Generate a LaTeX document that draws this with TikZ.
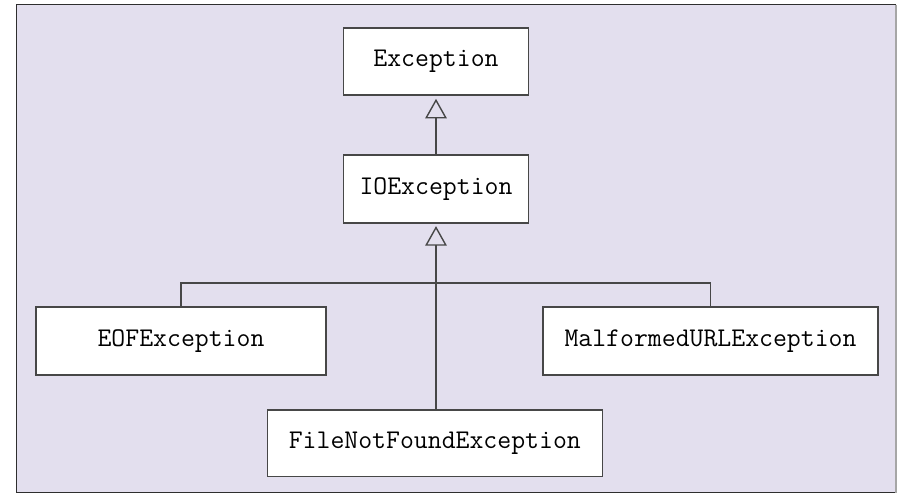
\documentclass[tikz,border=0pt]{standalone}
\usepackage{fontspec}
\usetikzlibrary{arrows.meta}
\definecolor{panelfill}{HTML}{E3DFEE}
\definecolor{edgegray}{HTML}{474747}
\definecolor{framegray}{HTML}{2E2E2E}
\begin{document}
\begin{tikzpicture}[x=0.5pt,y=-0.5pt,
  classbox/.style={draw=edgegray, line width=0.7pt, fill=white, inner sep=0pt,
    font=\ttfamily\fontsize{13.5}{15}\selectfont, anchor=center},
  link/.style={draw=edgegray, line width=0.7pt},
  inherit/.style={link, -{Triangle[open, length=9.8pt, width=10.8pt, line width=0.7pt]}}]
  % page frame and lavender panel
  \useasboundingbox (0,0) rectangle (897,494);
  \fill[panelfill] (16.5,4.5) rectangle (896,492.5);
  \draw[framegray, line width=0.9pt] (896,4.5) -- (16.5,4.5) -- (16.5,492.5) -- (896,492.5);
  \draw[gray!70, line width=0.8pt] (896,4.5) -- (896,492.5);

  % class boxes
  \node[classbox, minimum width=92.5pt, minimum height=33.6pt] (ex)  at (436,61.5) {\raisebox{1.5pt}{Exception}};
  \node[classbox, minimum width=92.5pt, minimum height=34pt]   (io)  at (436,189)  {\raisebox{1.5pt}{IOException}};
  \node[classbox, minimum width=145pt,  minimum height=34pt]   (eof) at (181,341)  {\raisebox{1.5pt}{EOFException}};
  \node[classbox, minimum width=167.5pt,minimum height=34pt]   (mal) at (710.5,341) {\raisebox{1.5pt}{MalformedURLException}};
  \node[classbox, minimum width=167.5pt,minimum height=33.3pt] (fnf) at (434.8,443.3) {\raisebox{1.5pt}{FileNotFoundException}};

  % junction of the subclass links
  \coordinate (bar) at (436,283);

  % generalisation links
  \draw[inherit] (io.north) -- ([yshift=-1.5pt]ex.south);
  \draw[inherit] (fnf.north -| io.south) -- ([yshift=-1.2pt]io.south);
  \draw[link] (eof.north) |- (bar) -| (mal.north);
\end{tikzpicture}
\end{document}
